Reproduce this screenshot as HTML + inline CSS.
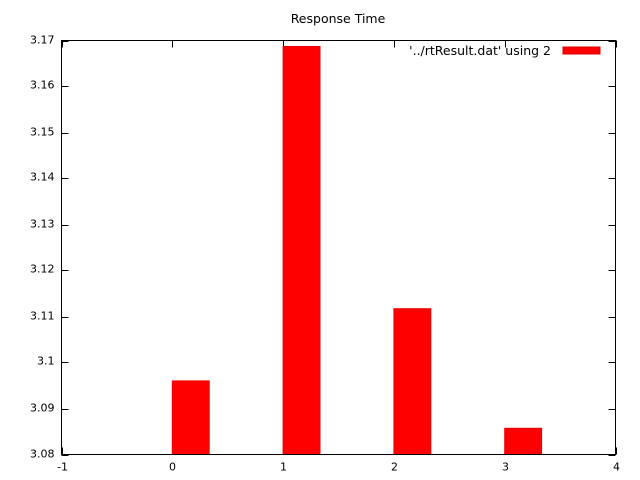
<!DOCTYPE html>
<html><head><meta charset="utf-8"><style>
body{margin:0;background:#fff}
svg{display:block;font-family:"DejaVu Sans","Liberation Sans",sans-serif;font-size:11px}
</style></head><body>
<svg id="chart" width="640" height="480" viewBox="0 0 640 480" xmlns="http://www.w3.org/2000/svg">
<rect width="640" height="480" fill="#fff"/>
<text x="338" y="23" text-anchor="middle" font-size="12.5">Response Time</text>
<g id="ticks"></g>
<g id="bars"></g>
<rect x="61.5" y="40.5" width="554" height="414" fill="none" stroke="#000" stroke-width="1"/>
<text x="551" y="55" text-anchor="end" font-size="12.5">'../rtResult.dat' using 2</text>
<rect x="563" y="47" width="37" height="7" fill="#f00" stroke="#d00" stroke-width="1"/>
</svg>
<script>
const categories=[0,1,2,3];
const values=[3.096,3.1687,3.1117,3.0857];
const yTicks=[3.08,3.09,3.1,3.11,3.12,3.13,3.14,3.15,3.16,3.17];
const yTickLabels=["3.08","3.09","3.1","3.11","3.12","3.13","3.14","3.15","3.16","3.17"];
const xTicks=[-1,0,1,2,3,4];
const xTickLabels=["-1","0","1","2","3","4"];
const NS="http://www.w3.org/2000/svg";
const L=61.5,R=615.5,T=40.5,B=454.5;
const xs=v=>L+(v+1)/5*(R-L);
const ys=v=>B-(v-3.08)/0.09*(B-T);
function mk(tag,attrs,parent){const e=document.createElementNS(NS,tag);for(const k in attrs)e.setAttribute(k,attrs[k]);parent.appendChild(e);return e;}
const tg=document.getElementById('ticks');
yTicks.forEach((v,i)=>{const y=Math.round(ys(v))+0.5;
 let a=mk('line',{x1:L,x2:L+7,y1:y,y2:y,stroke:'#000'},tg);
 
 
 let b=mk('line',{x1:R-7,x2:R,y1:y,y2:y,stroke:'#000'},tg);
 
 
 let t=mk('text',{x:L-7,y:y+2,'text-anchor':'end'},tg);t.textContent=yTickLabels[i];
 
 
});
xTicks.forEach((v,i)=>{const x=Math.round(xs(v))+0.5;
 let a=mk('line',{x1:x,x2:x,y1:B,y2:B-7,stroke:'#000'},tg);
 
 
 let b=mk('line',{x1:x,x2:x,y1:T,y2:T+7,stroke:'#000'},tg);
 
 
 let t=mk('text',{x:x,y:B+16,'text-anchor':'middle'},tg);t.textContent=xTickLabels[i];
 
 
});
const bg=document.getElementById('bars');
categories.forEach((c,i)=>{const x0=xs(c),x1=xs(c+0.333),y=ys(values[i]);
 let r=mk('rect',{x:x0,y:y,width:x1-x0,height:B-y,fill:'#f00',stroke:'#e00','stroke-width':1},bg);
 
 
});
</script>
</body></html>
